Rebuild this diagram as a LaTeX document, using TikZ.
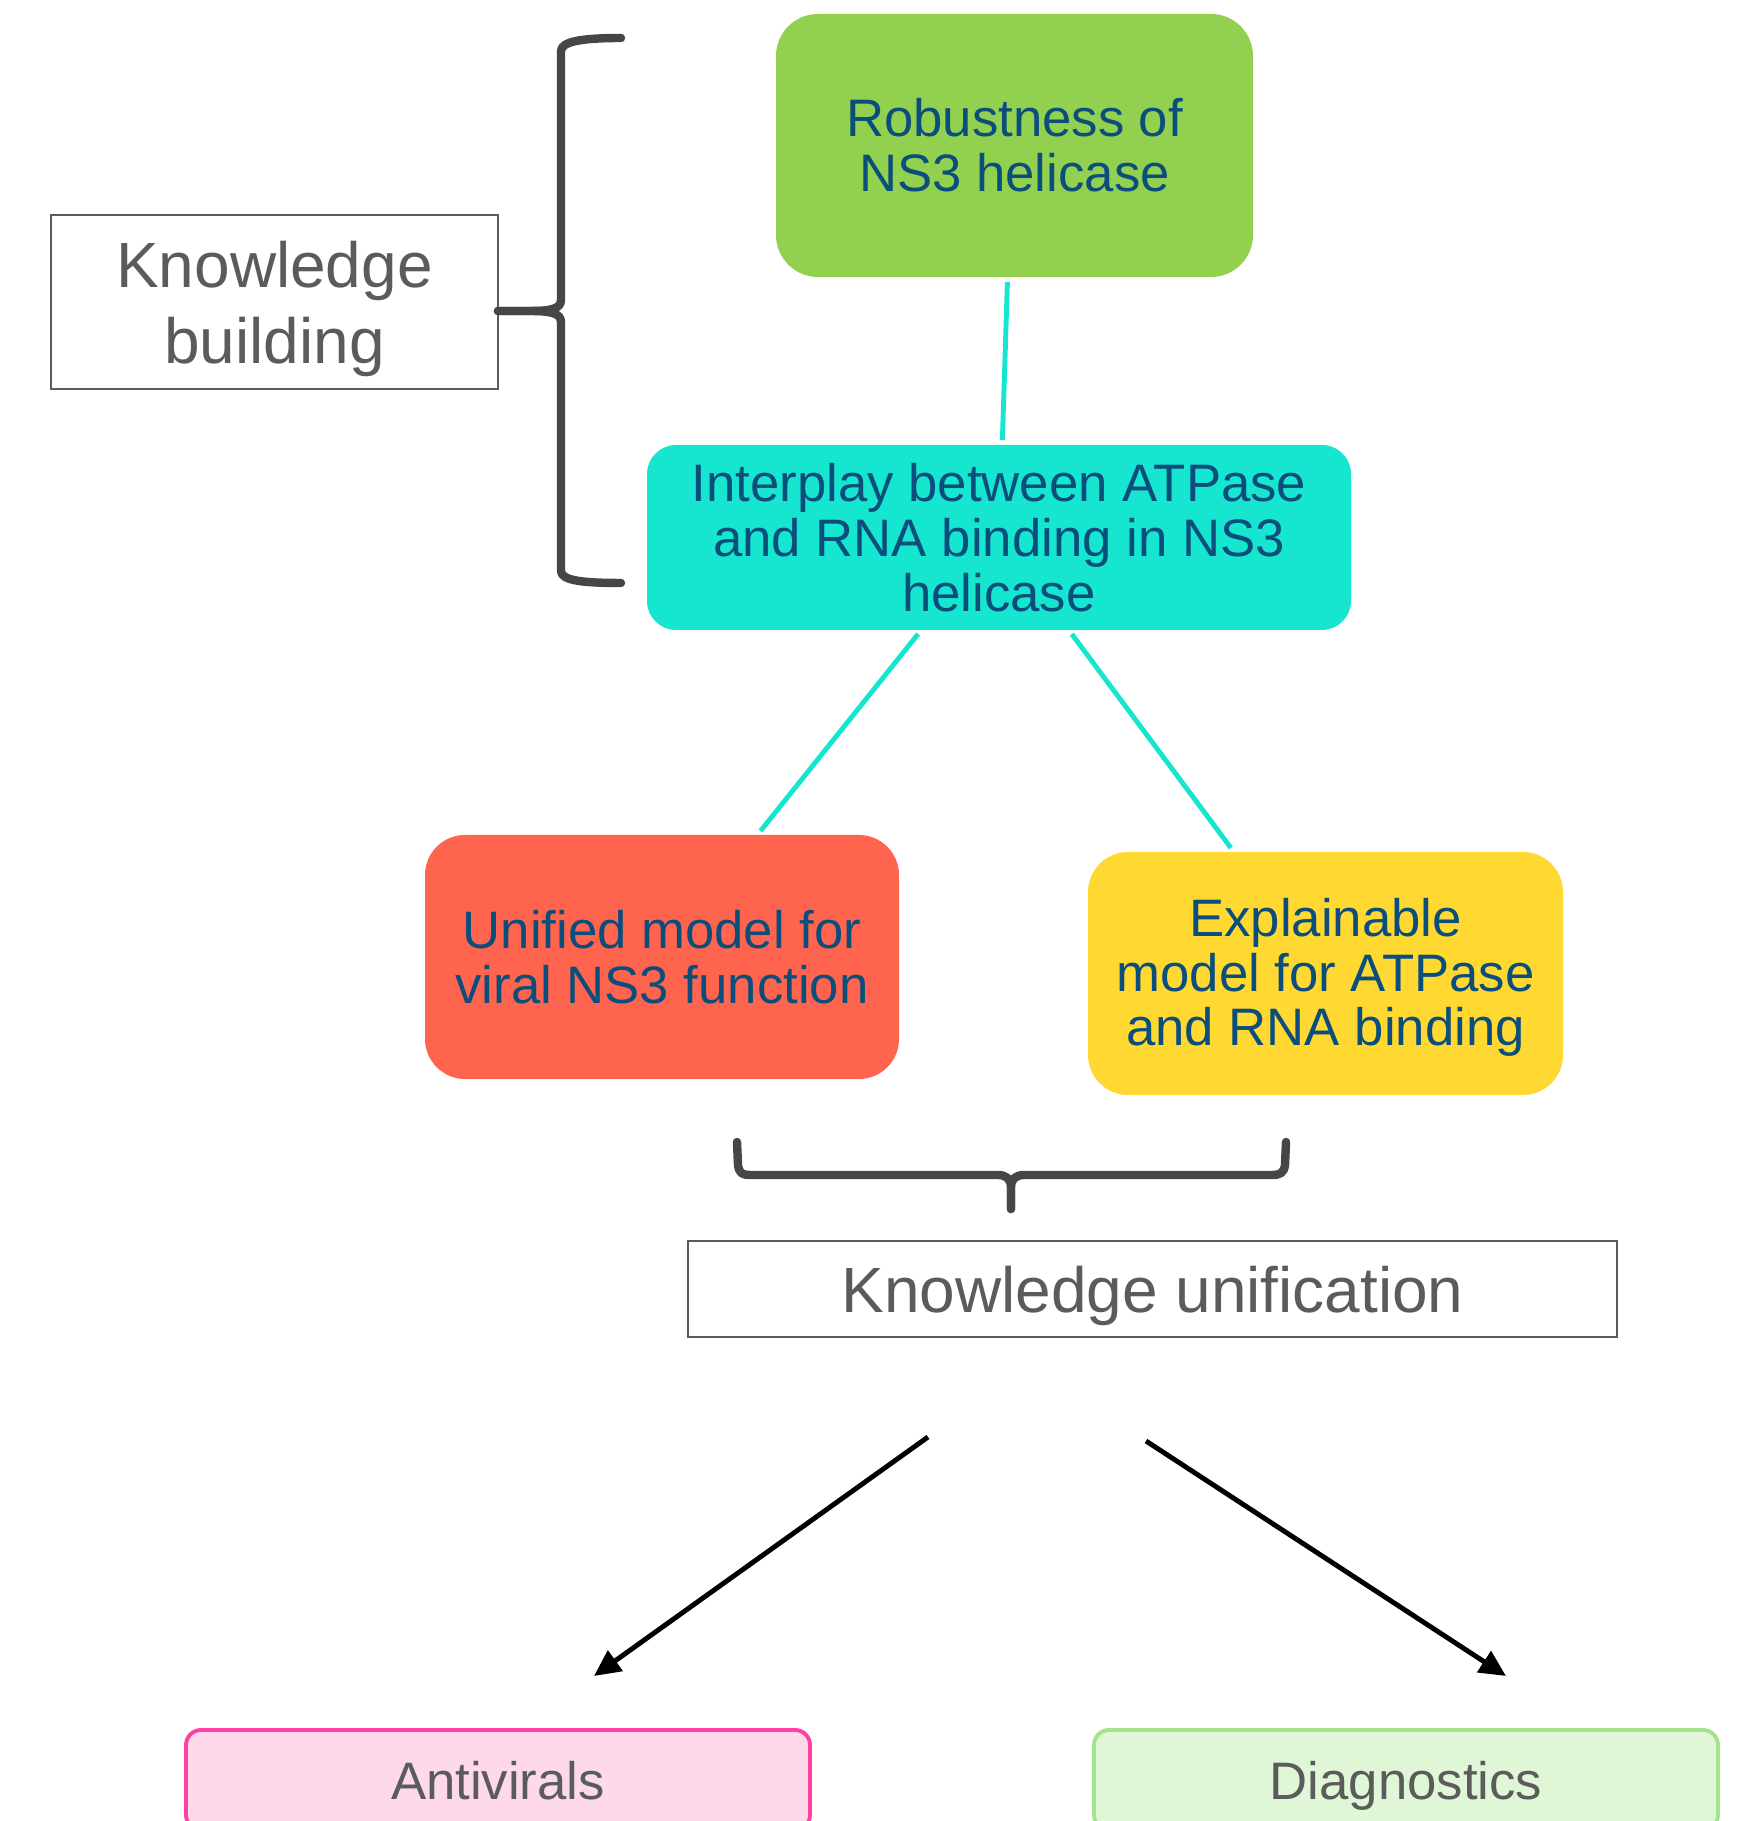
\documentclass[tikz,border=0pt]{standalone}
\usepackage{fontspec}
\setmainfont{Liberation Sans}
\usetikzlibrary{arrows.meta}

\definecolor{leaf}{HTML}{92D050}
\definecolor{aqua}{HTML}{16E6CF}
\definecolor{coral}{HTML}{FF644E}
\definecolor{sun}{HTML}{FFD932}
\definecolor{inkblue}{HTML}{0B4E7C}
\definecolor{labelgray}{HTML}{5B5B5B}
\definecolor{bracegray}{HTML}{464646}
\definecolor{pinkfill}{HTML}{FDD9EB}
\definecolor{pinkline}{HTML}{FF40A2}
\definecolor{mintfill}{HTML}{DFF7D6}
\definecolor{mintline}{HTML}{A3E48A}

\tikzset{
  topic/.style={align=center, text=inkblue, inner sep=0pt,
    font=\fontsize{15}{15.6}\selectfont},
  phase/.style={draw=labelgray, line width=0.4pt, align=center, text=labelgray,
    inner sep=0pt, font=\fontsize{18.2}{21.6}\selectfont},
  useage/.style={rounded corners=0.15cm, line width=1.1pt, text=labelgray,
    inner sep=0pt, minimum width=6.24cm, minimum height=1cm,
    text height=0.385cm, text depth=0cm,
    font=\fontsize{15}{17}\selectfont},
  link/.style={aqua, line width=1.4pt, shorten <=1.2pt, shorten >=1.2pt},
  bracket/.style={bracegray, line width=2.4pt, line cap=round, line join=round},
  lead/.style={black, line width=1.4pt, -{Triangle[length=7.5pt, width=7pt]}}
}

\begin{document}
\begin{tikzpicture}
  \useasboundingbox (0,0) rectangle (17.38,18.21);

  % Topics
  \node[topic, fill=leaf, rounded corners=0.42cm, minimum width=4.77cm, minimum height=2.63cm]
    (robust) at (10.145,16.755) {Robustness of\\NS3 helicase};
  \node[topic, fill=aqua, rounded corners=0.29cm, minimum width=7.04cm, minimum height=1.85cm]
    (interplay) at (9.99,12.835) {Interplay between ATPase\\and RNA binding in NS3\\helicase};
  \node[topic, fill=coral, rounded corners=0.40cm, minimum width=4.74cm, minimum height=2.44cm]
    (unified) at (6.62,8.64) {Unified model for\\viral NS3 function};
  \node[topic, fill=sun, rounded corners=0.40cm, minimum width=4.75cm, minimum height=2.43cm,
    text height=1.56cm, text depth=0.11cm]
    (explain) at (13.255,8.475) {Explainable\\model for ATPase\\and RNA binding};

  % Links
  \draw[link] (robust.267.3) -- (interplay.88.2);
  \draw[link] (interplay.230) -- (unified.52);
  \draw[link] (interplay.307.5) -- (explain.127.9);

  % Phases
  \node[phase, minimum width=4.47cm, minimum height=1.74cm, text height=1.37cm, text depth=0.134cm]
    (building) at (2.745,15.19) {Knowledge\\building};
  \node[phase, minimum width=9.29cm, minimum height=0.96cm, text depth=0cm]
    (unification) at (11.525,5.32) {Knowledge unification};

  % Brace for knowledge building
  \coordinate (btip) at (4.98,15.10);
  \draw[bracket] (6.21,17.83) .. controls (5.85,17.83) and (5.61,17.80) .. (5.61,17.70)
    -- (5.61,15.21) .. controls (5.61,15.12) and (5.50,15.10) .. (5.30,15.10) -- (btip);
  \draw[bracket] (btip) -- (5.30,15.10) .. controls (5.50,15.10) and (5.61,15.08) .. (5.61,14.99)
    -- (5.61,12.50) .. controls (5.61,12.40) and (5.85,12.38) .. (6.21,12.38);

  % Brace for knowledge unification
  \coordinate (utip) at (10.11,6.12);
  \draw[bracket] (7.37,6.79) -- (7.38,6.56) .. controls (7.39,6.48) and (7.42,6.46) .. (7.50,6.46)
    -- (9.98,6.46) .. controls (10.06,6.46) and (10.11,6.42) .. (10.11,6.34) -- (utip);
  \draw[bracket] (utip) -- (10.11,6.34) .. controls (10.11,6.42) and (10.16,6.46) .. (10.24,6.46)
    -- (12.72,6.46) .. controls (12.80,6.46) and (12.84,6.48) .. (12.85,6.56) -- (12.86,6.79);

  % Uses
  \node[useage, draw=pinkline, fill=pinkfill] (antiviral) at (4.98,0.41) {Antivirals};
  \node[useage, draw=mintline, fill=mintfill] (diagnose) at (14.06,0.41) {Diagnostics};

  % Leads to the uses
  \coordinate (leftfrom) at (9.28,3.84);
  \coordinate (leftto) at (5.94,1.45);
  \coordinate (rightfrom) at (11.46,3.80);
  \coordinate (rightto) at (15.06,1.45);
  \draw[lead] (leftfrom) -- (leftto);
  \draw[lead] (rightfrom) -- (rightto);

\end{tikzpicture}
\end{document}
